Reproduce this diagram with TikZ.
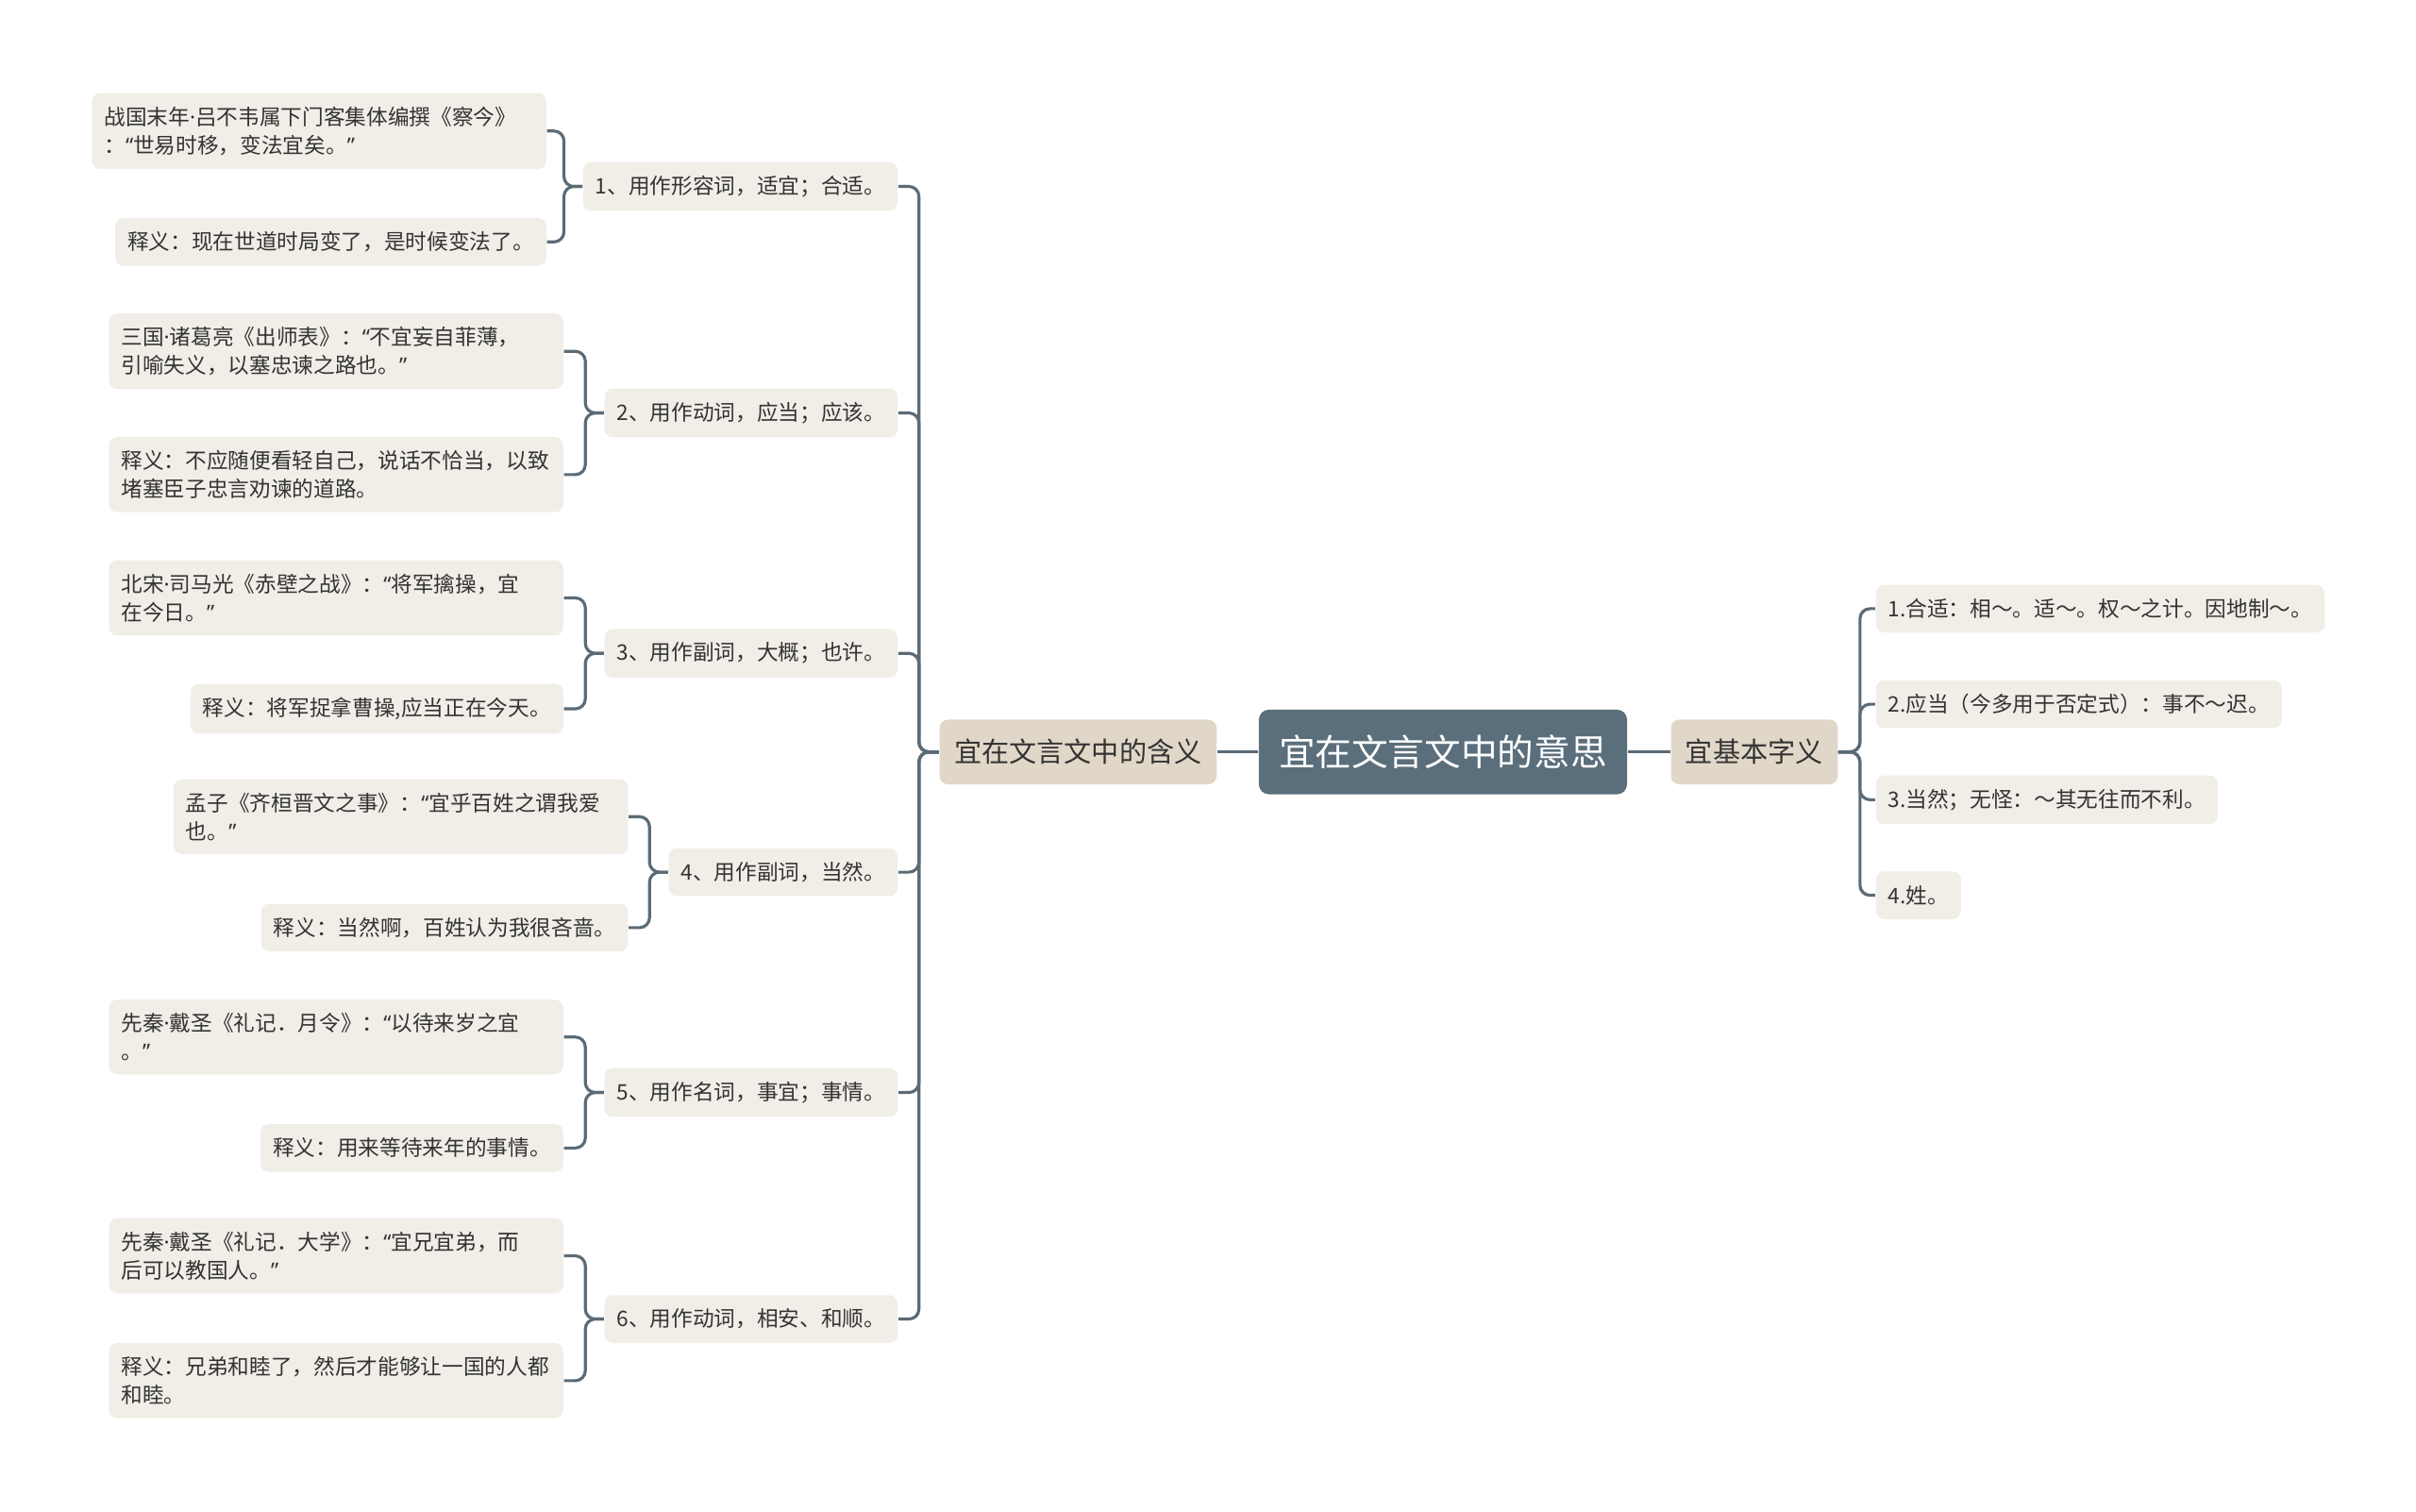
\documentclass[tikz,border=0pt]{standalone}
\usepackage{fontspec}
\setmainfont{Noto Sans CJK SC}
\newfontfamily\latin{Noto Sans}
\newcommand{\dotc}{{\latin ·}}
\newcommand{\openq}{{\latin “}}
\newcommand{\closeq}{{\latin ”}}
\definecolor{ink}{HTML}{333333}
\definecolor{leafbg}{HTML}{F1EEE7}
\definecolor{branchbg}{HTML}{E1D7C8}
\definecolor{topicbg}{HTML}{5B6E7B}
\definecolor{linkcol}{HTML}{5B6B76}

\begin{document}
\begin{tikzpicture}
    [
        x = 0.016327cm, y = -0.016327cm,
        every node/.style = {text = ink, font = \fontsize{6.45}{8.5}\selectfont},
        leaf/.style = {fill = leafbg, rounded corners = 2.5pt, inner xsep = 3.7pt, inner ysep = 4.1pt, minimum height = 14.4pt},
        quote/.style = {leaf, text width = 129.6pt, align = left},
        branch/.style = {fill = branchbg, rounded corners = 2.5pt, inner xsep = 4.4pt, minimum height = 19.5pt, font = \fontsize{8.3}{10}\selectfont},
        topic/.style = {fill = topicbg, text = white, rounded corners = 3pt, minimum width = 111pt, minimum height = 25.5pt, font = \fontsize{11}{13}\selectfont},
        link/.style = {draw = linkcol, line width = 0.9pt, rounded corners = 3pt},
    ]

    \useasboundingbox (0,0) rectangle (1568,981);

    \node[topic] (root) at (936.5,488) {宜在文言文中的意思};
    \node[branch, anchor = east] (meaning) at (790,488) {宜在文言文中的含义};
    \node[branch, anchor = west] (basic) at (1084,488) {宜基本字义};

    \node[leaf, anchor = west] (def1) at (1217,395) {1.合适：相～。适～。权～之计。因地制～。};
    \node[leaf, anchor = west] (def2) at (1217,457) {2.应当（今多用于否定式）：事不～迟。};
    \node[leaf, anchor = west] (def3) at (1217,519) {3.当然；无怪：～其无往而不利。};
    \node[leaf, anchor = west] (def4) at (1217,581) {4.姓。};

    \node[leaf, anchor = east] (use1) at (583,121) {1、用作形容词，适宜；合适。};
    \node[leaf, anchor = east] (use2) at (583,268) {2、用作动词，应当；应该。};
    \node[leaf, anchor = east] (use3) at (583,424) {3、用作副词，大概；也许。};
    \node[leaf, anchor = east] (use4) at (583,566) {4、用作副词，当然。};
    \node[leaf, anchor = east] (use5) at (583,709) {5、用作名词，事宜；事情。};
    \node[leaf, anchor = east] (use6) at (583,856) {6、用作动词，相安、和顺。};

    \node[quote, anchor = east] (src1) at (355,85) {战国末年\dotc 吕不韦属下门客集体编撰《察今》\\：\openq 世易时移，变法宜矣。\closeq};
    \node[leaf, anchor = east] (expl1) at (355,157) {释义：现在世道时局变了，是时候变法了。};

    \node[quote, anchor = east] (src2) at (366,228) {三国\dotc 诸葛亮《出师表》：\openq 不宜妄自菲薄，\\引喻失义，以塞忠谏之路也。\closeq};
    \node[quote, anchor = east] (expl2) at (366,308) {释义：不应随便看轻自己，说话不恰当，以致\\堵塞臣子忠言劝谏的道路。};

    \node[quote, anchor = east] (src3) at (366,388) {北宋\dotc 司马光《赤壁之战》：\openq 将军擒操，宜\\在今日。\closeq};
    \node[leaf, anchor = east] (expl3) at (366,460) {释义：将军捉拿曹操,应当正在今天。};

    \node[quote, anchor = east] (src4) at (408,530) {孟子《齐桓晋文之事》：\openq 宜乎百姓之谓我爱\\也。\closeq};
    \node[leaf, anchor = east] (expl4) at (408,602) {释义：当然啊，百姓认为我很吝啬。};

    \node[quote, anchor = east] (src5) at (366,673) {先秦\dotc 戴圣《礼记．月令》：\openq 以待来岁之宜\\。\closeq};
    \node[leaf, anchor = east] (expl5) at (366,745) {释义：用来等待来年的事情。};

    \node[quote, anchor = east] (src6) at (366,815) {先秦\dotc 戴圣《礼记．大学》：\openq 宜兄宜弟，而\\后可以教国人。\closeq};
    \node[quote, anchor = east] (expl6) at (366,896) {释义：兄弟和睦了，然后才能够让一国的人都\\和睦。};

    \draw[link] (root) -- (meaning);
    \draw[link] (root) -- (basic);

    \foreach \i in {1,...,4}{
            \draw[link] (basic.east) -- ++(14,0) |- (def\i.west);
        }

    \foreach \i in {1,...,6}{
            \draw[link] (meaning.west) -- ++(-13,0) |- (use\i.east);
            \draw[link] (use\i.west) -- ++(-12,0) |- (src\i.east);
            \draw[link] (use\i.west) -- ++(-12,0) |- (expl\i.east);
        }

\end{tikzpicture}
\end{document}
